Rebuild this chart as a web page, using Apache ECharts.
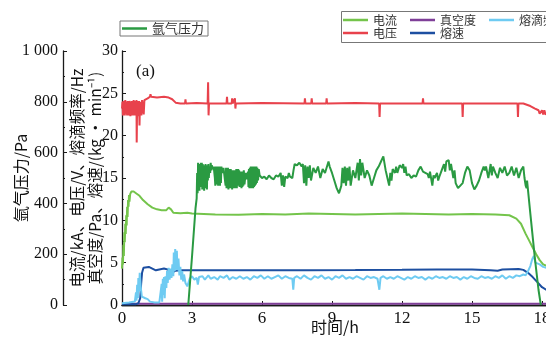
<!DOCTYPE html>
<html>
<head>
<meta charset="utf-8">
<title>chart</title>
<script src="https://cdn.jsdelivr.net/npm/echarts@6.0.0/dist/echarts.min.js"></script>
<style>
  html, body { margin: 0; padding: 0; background: #fff; }
  #one { width: 546px; height: 343px; }
</style>
</head>
<body>
<div id="one"></div>
<script>
// 时间轴刻度 / 左侧两根纵轴刻度
var timeTicks = ['0', '3', '6', '9', '12', '15', '18'];
var argonTicks = ['0', '200', '400', '600', '800', '1 000'];
var mainTicks = ['0', '5', '10', '15', '20', '25', '30'];

// 电流/kA  [时间h, 值]
var currentData = [
    [0, 4.3], [0.02, 5.6], [0.04, 4.8], [0.06, 7.1], [0.08, 5.8], [0.1, 8.6], [0.12, 7.4], [0.14, 9.6],
    [0.16, 8.4], [0.18, 10.6], [0.2, 9.4], [0.22, 11.6], [0.24, 10.4], [0.26, 12.4], [0.28, 11.6], [0.3, 13.0],
    [0.32, 12.2], [0.35, 13.1], [0.4, 13.4], [0.5, 13.4],
    [0.6, 13.2], [0.75, 12.9], [0.9, 12.4], [1.1, 11.9], [1.3, 11.5], [1.5, 11.3], [1.7, 11.2], [1.9, 11.2],
    [2.0, 11.5], [2.1, 11.3], [2.2, 10.9], [2.5, 10.85], [2.8, 10.9], [3.0, 10.8], [3.5, 10.75], [4, 10.7],
    [5, 10.65], [6, 10.75], [7, 10.7], [8, 10.8], [9, 10.75], [10, 10.7], [11, 10.75], [12, 10.8],
    [13, 10.75], [14, 10.7], [15, 10.75], [16, 10.7], [16.6, 10.6], [16.9, 10.2], [17.1, 9.6], [17.3, 8.4],
    [17.45, 7.6], [17.6, 6.8], [17.75, 6.0], [17.9, 5.3], [18.05, 4.8], [18.3, 4.5]
];

// 电压/V
var voltageData = [
    [0, 23.2], [0.02, 24.0], [0.04, 22.4], [0.06, 24.1], [0.08, 22.5], [0.1, 23.9], [0.12, 22.4], [0.14, 24.2],
    [0.16, 22.6], [0.18, 24.0], [0.2, 24.2], [0.22, 22.4], [0.24, 24.1], [0.26, 22.5], [0.28, 24.0], [0.3, 22.4],
    [0.32, 24.1], [0.34, 23.8], [0.36, 22.3], [0.38, 24.0], [0.4, 22.5], [0.42, 24.1], [0.44, 22.4], [0.46, 23.9],
    [0.48, 22.5], [0.5, 24.2], [0.52, 22.4], [0.54, 24.0], [0.56, 22.5], [0.58, 24.1], [0.6, 22.4], [0.62, 24.2],
    [0.63, 19.2], [0.65, 24.0], [0.67, 22.4], [0.69, 24.1], [0.71, 22.3], [0.73, 24.1], [0.75, 21.2], [0.77, 24.0],
    [0.8, 23.9], [0.83, 22.4], [0.86, 24.2], [0.9, 24.1], [0.93, 22.5], [0.96, 24.2], [1.0, 24.3],
    [1.1, 24.4], [1.2, 24.6], [1.22, 24.9], [1.25, 24.6], [1.5, 24.5],
    [1.8, 24.6], [1.82, 24.8], [1.85, 24.5], [2.0, 24.5], [2.15, 24.3], [2.3, 23.9], [2.5, 23.8], [2.7, 23.8],
    [2.72, 24.3], [2.74, 23.8], [3.2, 23.85], [3.67, 23.8], [3.69, 26.3], [3.71, 22.4], [3.73, 23.8], [4.48, 23.8],
    [4.5, 24.6], [4.52, 23.8], [4.7, 23.8], [4.72, 24.4], [4.74, 23.8], [4.82, 23.8], [4.84, 24.4], [4.86, 23.2],
    [4.88, 23.8], [6, 23.85], [7.82, 23.8], [7.84, 24.4], [7.86, 23.8], [8.11, 23.8], [8.13, 24.4], [8.15, 23.8],
    [8.75, 23.8], [8.77, 24.4], [8.79, 23.8], [10, 23.85], [11.02, 23.8], [11.04, 22.2], [11.06, 23.8], [12.88, 23.8],
    [12.9, 24.4], [12.92, 23.8], [14.58, 23.8], [14.6, 22.2], [14.62, 23.8], [16.95, 23.8], [16.97, 22.2], [16.99, 23.8],
    [17.2, 23.8], [17.5, 23.5], [17.7, 23.2], [17.85, 23.0], [17.9, 22.6], [18.0, 23.0], [18.05, 22.5], [18.1, 23.0],
    [18.15, 22.5], [18.3, 22.8]
];

// 真空度/Pa
var vacuumData = [[0, 0.15], [6, 0.15], [12, 0.15], [18.3, 0.15]];

// 熔速/(kg·min-1)
var meltRateData = [
    [0, 0.1], [0.6, 0.1], [0.7, 0.2], [0.78, 0.8], [0.82, 2.5], [0.86, 3.8], [0.92, 4.4], [1.0, 4.5],
    [1.15, 4.5], [1.3, 4.3], [1.45, 4.1], [1.6, 4.2], [1.8, 4.3], [1.95, 4.2], [2.1, 3.95], [2.2, 3.9],
    [2.3, 4.05], [2.5, 4.1], [3, 4.1], [4, 4.1], [6, 4.1], [8, 4.1], [10, 4.12], [12, 4.15],
    [13.5, 4.2], [15, 4.2], [15.8, 4.1], [16.1, 4.05], [16.3, 4.2], [17.0, 4.25], [17.2, 4.15], [17.4, 3.8],
    [17.6, 3.3], [17.8, 2.7], [18.0, 2.1], [18.3, 1.6]
];

// 熔滴频率/Hz
var dropFreqData = [
    [0, 0.2], [0.3, 0.3], [0.55, 0.4], [0.6, 1.5], [0.62, 0.5], [0.65, 2.4], [0.68, 0.8], [0.7, 3.2],
    [0.73, 1.6], [0.76, 3.8], [0.8, 2.2], [0.85, 1.0], [0.9, 0.9], [1.0, 0.8], [1.1, 0.7], [1.2, 0.4],
    [1.4, 0.3], [1.6, 0.3], [1.68, 0.5], [1.7, 2.5], [1.72, 0.4], [1.75, 3.1], [1.78, 1.2], [1.8, 3.3],
    [1.83, 0.8], [1.86, 3.4], [1.9, 2.0], [1.93, 4.0], [1.96, 2.6], [2.0, 4.4], [2.04, 3.0], [2.08, 4.3],
    [2.12, 3.2], [2.16, 4.8], [2.2, 3.4], [2.22, 6.2], [2.26, 4.0], [2.28, 6.6], [2.32, 4.2], [2.35, 6.4],
    [2.38, 4.1], [2.42, 5.5], [2.46, 3.5], [2.5, 4.5], [2.54, 3.0], [2.58, 4.0], [2.62, 2.8], [2.66, 3.6],
    [2.72, 2.6], [2.8, 2.2], [2.9, 3.1], [3.0, 3.4], [3.1, 3.0], [3.2, 3.2], [3.25, 2.4], [3.3, 3.3],
    [3.45, 3.4], [3.55, 3.0], [3.7, 3.5], [3.8, 3.1], [3.95, 3.3], [4.1, 3.0], [4.2, 3.4], [4.35, 3.2],
    [4.5, 3.5], [4.6, 3.0], [4.75, 3.3], [4.9, 3.1], [5.05, 3.4], [5.2, 3.1], [5.35, 3.3], [5.5, 3.0],
    [5.65, 3.4], [5.8, 3.2], [5.95, 3.5], [6.1, 3.1], [6.25, 3.4], [6.4, 3.1], [6.55, 3.3], [6.7, 3.5],
    [6.85, 3.1], [7.0, 3.4], [7.15, 3.2], [7.3, 3.1], [7.34, 1.8], [7.38, 3.2], [7.5, 3.4], [7.65, 3.1],
    [7.8, 3.5], [7.95, 3.2], [8.1, 3.0], [8.25, 3.4], [8.4, 3.2], [8.55, 3.5], [8.7, 3.1], [8.85, 3.3],
    [9.0, 3.0], [9.15, 3.4], [9.3, 3.2], [9.45, 3.5], [9.6, 3.1], [9.75, 3.3], [9.9, 3.1], [10.05, 3.4],
    [10.2, 3.2], [10.35, 3.0], [10.5, 3.4], [10.65, 3.2], [10.8, 3.3], [10.95, 3.1], [11.03, 1.8], [11.08, 3.2],
    [11.2, 3.4], [11.35, 3.1], [11.5, 3.3], [11.65, 3.1], [11.8, 3.4], [11.95, 3.2], [12.1, 3.0], [12.25, 3.3],
    [12.4, 3.1], [12.55, 3.4], [12.7, 3.2], [12.85, 3.3], [13.0, 3.0], [13.15, 3.3], [13.3, 3.1], [13.45, 3.4],
    [13.6, 3.2], [13.75, 3.3], [13.9, 3.1], [14.05, 3.4], [14.2, 3.2], [14.35, 3.3], [14.5, 3.0], [14.65, 3.3],
    [14.8, 3.1], [14.95, 3.4], [15.1, 3.2], [15.25, 3.1], [15.4, 3.4], [15.55, 3.2], [15.7, 3.3], [15.85, 3.1],
    [16.0, 3.4], [16.15, 3.2], [16.3, 3.5], [16.45, 3.1], [16.6, 3.4], [16.75, 3.2], [16.9, 3.5], [17.05, 3.4],
    [17.2, 3.6], [17.3, 3.5], [17.4, 4.0], [17.5, 4.6], [17.58, 5.4], [17.65, 5.8], [17.72, 5.0], [17.8, 5.2],
    [17.9, 4.8], [18.05, 4.5], [18.3, 4.3]
];

// 氩气压力/Pa (0~1000 的外侧轴)
var argonData = [
    [2.84, 0], [3.0, 190], [3.15, 380], [3.2, 420], [3.22, 520], [3.24, 440], [3.26, 560], [3.28, 470],
    [3.3, 545], [3.32, 450], [3.34, 555], [3.36, 465], [3.38, 560], [3.4, 480], [3.42, 560], [3.44, 455],
    [3.46, 555], [3.48, 470], [3.5, 550], [3.52, 450], [3.54, 545], [3.56, 460], [3.58, 555], [3.6, 475],
    [3.62, 540], [3.64, 455], [3.66, 550], [3.68, 490], [3.7, 555], [3.72, 500], [3.75, 545], [3.78, 520],
    [3.8, 560], [3.83, 530], [3.85, 550], [3.88, 535], [3.9, 540], [3.93, 545], [3.95, 550], [3.98, 500],
    [4.0, 470], [4.02, 545], [4.04, 475], [4.06, 540], [4.08, 480], [4.1, 545], [4.12, 470], [4.14, 540],
    [4.16, 485], [4.18, 545], [4.2, 470], [4.22, 540], [4.24, 480], [4.26, 545], [4.3, 520], [4.35, 540],
    [4.4, 535], [4.44, 470], [4.46, 540], [4.48, 460], [4.5, 535], [4.52, 465], [4.54, 540], [4.56, 455],
    [4.58, 535], [4.6, 465], [4.62, 530], [4.64, 460], [4.66, 535], [4.68, 465], [4.7, 530], [4.72, 455],
    [4.74, 530], [4.76, 460], [4.78, 525], [4.8, 470], [4.82, 530], [4.84, 460], [4.86, 525], [4.88, 465],
    [4.9, 535], [4.92, 460], [4.94, 530], [4.96, 470], [4.98, 535], [5.0, 480], [5.02, 530], [5.04, 465],
    [5.06, 525], [5.08, 470], [5.1, 520], [5.12, 460], [5.14, 525], [5.16, 465], [5.18, 520], [5.2, 470],
    [5.22, 530], [5.25, 475], [5.3, 520], [5.35, 495], [5.4, 525], [5.42, 465], [5.44, 535], [5.46, 460],
    [5.48, 540], [5.5, 470], [5.52, 545], [5.54, 460], [5.56, 540], [5.58, 470], [5.6, 545], [5.62, 460],
    [5.64, 540], [5.66, 465], [5.68, 545], [5.7, 470], [5.72, 540], [5.74, 475], [5.76, 545], [5.78, 480],
    [5.8, 540], [5.83, 490], [5.86, 535], [5.9, 510], [6.0, 500], [6.1, 505], [6.2, 495],
    [6.3, 510], [6.4, 500], [6.5, 495], [6.6, 510], [6.7, 505], [6.8, 520], [6.85, 470], [6.9, 510],
    [6.95, 465], [7.0, 505], [7.1, 500], [7.15, 520], [7.2, 505], [7.3, 500], [7.35, 530], [7.4, 555],
    [7.5, 550], [7.6, 560], [7.7, 545], [7.75, 555], [7.8, 480], [7.85, 550], [7.9, 470], [7.95, 545],
    [8.0, 500], [8.05, 550], [8.1, 490], [8.2, 540], [8.3, 520], [8.4, 545], [8.5, 500], [8.6, 535],
    [8.7, 520], [8.85, 565], [8.9, 545], [9.0, 520], [9.1, 490], [9.2, 460], [9.3, 440], [9.4, 470],
    [9.45, 540], [9.5, 480], [9.55, 545], [9.6, 470], [9.65, 540], [9.7, 490], [9.75, 545], [9.8, 470],
    [9.9, 530], [10.0, 500], [10.1, 560], [10.15, 490], [10.2, 575], [10.25, 510], [10.3, 560], [10.4, 500],
    [10.5, 530], [10.6, 510], [10.7, 470], [10.8, 500], [10.9, 530], [11.0, 545], [11.1, 565], [11.2, 585],
    [11.3, 530], [11.4, 490], [11.45, 470], [11.5, 520], [11.55, 490], [11.6, 535], [11.7, 520], [11.75, 545],
    [11.8, 520], [11.9, 550], [12.0, 540], [12.05, 555], [12.1, 520], [12.15, 545], [12.2, 510], [12.3, 515],
    [12.4, 500], [12.5, 510], [12.6, 505], [12.7, 530], [12.8, 545], [12.85, 540], [12.9, 525], [13.0, 520],
    [13.1, 515], [13.15, 500], [13.2, 525], [13.3, 470], [13.35, 510], [13.4, 500], [13.5, 520], [13.55, 490],
    [13.6, 505], [13.7, 530], [13.8, 555], [13.85, 525], [13.9, 565], [14.0, 570], [14.05, 530], [14.1, 555],
    [14.2, 500], [14.25, 530], [14.3, 480], [14.4, 460], [14.5, 470], [14.6, 480], [14.7, 520], [14.8, 545],
    [14.9, 530], [15.0, 480], [15.1, 455], [15.2, 470], [15.3, 490], [15.4, 520], [15.5, 545], [15.55, 530],
    [15.6, 545], [15.7, 500], [15.8, 555], [15.85, 510], [15.9, 545], [16.0, 520], [16.1, 500], [16.2, 540],
    [16.3, 520], [16.4, 545], [16.5, 510], [16.6, 520], [16.7, 545], [16.8, 510], [16.9, 540], [17.0, 500],
    [17.1, 530], [17.2, 545], [17.25, 500], [17.3, 470], [17.34, 460], [17.36, 490], [17.5, 360], [17.7, 180],
    [17.85, 60], [17.95, 0]
];

var myChart = echarts.init(document.getElementById('one'), null, { renderer: 'canvas' });

var numFont = '"Liberation Serif", "DejaVu Serif", serif';
var cjkFont = '"Noto Sans CJK SC", "Liberation Serif", sans-serif';
var axisColor = '#1a1a1a';

function lineSeries(name, data, color, yIdx) {
    return {
        name: name,
        type: 'line',
        data: data,
        yAxisIndex: yIdx,
        symbol: 'none',
        showSymbol: false,
        lineStyle: { color: color, width: 2 },
        itemStyle: { color: color },
        emphasis: { disabled: true }
    };
}

var option = {
    backgroundColor: '#ffffff',
    animation: false,
    title: {
        text: '(a)',
        left: 131,
        top: 58,
        textStyle: { fontFamily: numFont, fontSize: 17, fontWeight: 'normal', color: '#111' }
    },
    legend: [
        {
            data: ['氩气压力'],
            left: 120, top: 21,
            padding: [1, 4, 1, 2],
            borderColor: '#777', borderWidth: 1,
            icon: 'rect', itemWidth: 25, itemHeight: 2.5,
            textStyle: { fontFamily: cjkFont, fontSize: 13, color: '#333' }
        },
        {
            data: ['电流', '真空度', '熔滴频率'],
            left: 343, top: 14, width: 260,
            orient: 'horizontal', padding: 0, itemGap: 13,
            icon: 'rect', itemWidth: 25, itemHeight: 2.5,
            textStyle: { fontFamily: cjkFont, fontSize: 12, color: '#333' }
        },
        {
            data: ['电压', '熔速'],
            left: 343, top: 27, width: 260,
            orient: 'horizontal', padding: 0, itemGap: 13,
            icon: 'rect', itemWidth: 25, itemHeight: 2.5,
            textStyle: { fontFamily: cjkFont, fontSize: 12, color: '#333' }
        }
    ],
    graphic: [
        {
            type: 'rect',
            shape: { x: 341.5, y: 11.5, width: 240, height: 31 },
            style: { fill: 'none', stroke: '#777', lineWidth: 1 },
            silent: true
        }
    ],
    grid: {
        left: 122,
        top: 51,
        right: -66,
        bottom: 38,
        outerBoundsMode: 'none'
    },
    xAxis: [
        {
            type: 'value',
            min: 0, max: 21, interval: 3,
            name: '时间/h',
            nameLocation: 'middle',
            nameGap: 14,
            nameMoveOverlap: false,
            nameTextStyle: { fontFamily: cjkFont, fontSize: 16, color: '#111', padding: [0, 64, 0, 0] },
            axisLine: { show: true, onZero: false, lineStyle: { color: axisColor, width: 1.3 } },
            axisTick: { show: true, inside: true, length: 4, lineStyle: { color: axisColor } },
            axisLabel: {
                margin: 5,
                fontFamily: numFont, fontSize: 17, color: '#111',
                formatter: function (v) { return timeTicks[v / 3] || ''; }
            },
            splitLine: { show: false }
        },
        {
            type: 'value',
            position: 'top',
            min: 0, max: 21,
            axisLine: { show: true, lineStyle: { color: axisColor, width: 1.3 } },
            axisTick: { show: false },
            axisLabel: { show: false },
            splitLine: { show: false }
        }
    ],
    yAxis: [
        {
            type: 'value',
            position: 'left',
            min: 0, max: 30, interval: 5,
            name: '电流/kA、电压/V、熔滴频率/Hz\n真空度/Pa、熔速/(kg · min⁻¹)',
            nameLocation: 'middle',
            nameRotate: 90,
            nameGap: 18,
            nameMoveOverlap: false,
            nameTextStyle: { fontFamily: cjkFont, fontSize: 15.5, lineHeight: 18, color: '#111' },
            axisLine: { show: true, onZero: false, lineStyle: { color: axisColor, width: 1.3 } },
            axisTick: { show: true, inside: true, length: 4, lineStyle: { color: axisColor } },
            minorTick: { show: true, splitNumber: 2, length: 2, lineStyle: { color: axisColor } },
            axisLabel: {
                margin: 4,
                fontFamily: numFont, fontSize: 16, color: '#111',
                formatter: function (v) { return mainTicks[v / 5]; }
            },
            splitLine: { show: false }
        },
        {
            type: 'value',
            position: 'left',
            offset: 59,
            min: 0, max: 1000, interval: 200,
            name: '氩气压力/Pa',
            nameLocation: 'middle',
            nameRotate: 90,
            nameGap: 34,
            nameMoveOverlap: false,
            nameTextStyle: { fontFamily: cjkFont, fontSize: 16, color: '#111' },
            axisLine: { show: true, onZero: false, lineStyle: { color: axisColor, width: 1.3 } },
            axisTick: { show: true, inside: true, length: 4, lineStyle: { color: axisColor } },
            minorTick: { show: true, splitNumber: 2, length: 2, lineStyle: { color: axisColor } },
            axisLabel: {
                margin: 5,
                fontFamily: numFont, fontSize: 16, color: '#111',
                formatter: function (v) { return argonTicks[v / 200]; }
            },
            splitLine: { show: false }
        }
    ],
    series: [
        lineSeries('电流', currentData, '#74c44b', 0),
        lineSeries('电压', voltageData, '#e8424c', 0),
        lineSeries('真空度', vacuumData, '#7f3f98', 0),
        lineSeries('熔速', meltRateData, '#1d4fa1', 0),
        lineSeries('熔滴频率', dropFreqData, '#6ecbf2', 0),
        lineSeries('氩气压力', argonData, '#2a9a42', 1)
    ]
};

myChart.setOption(option, true);
</script>
</body>
</html>
